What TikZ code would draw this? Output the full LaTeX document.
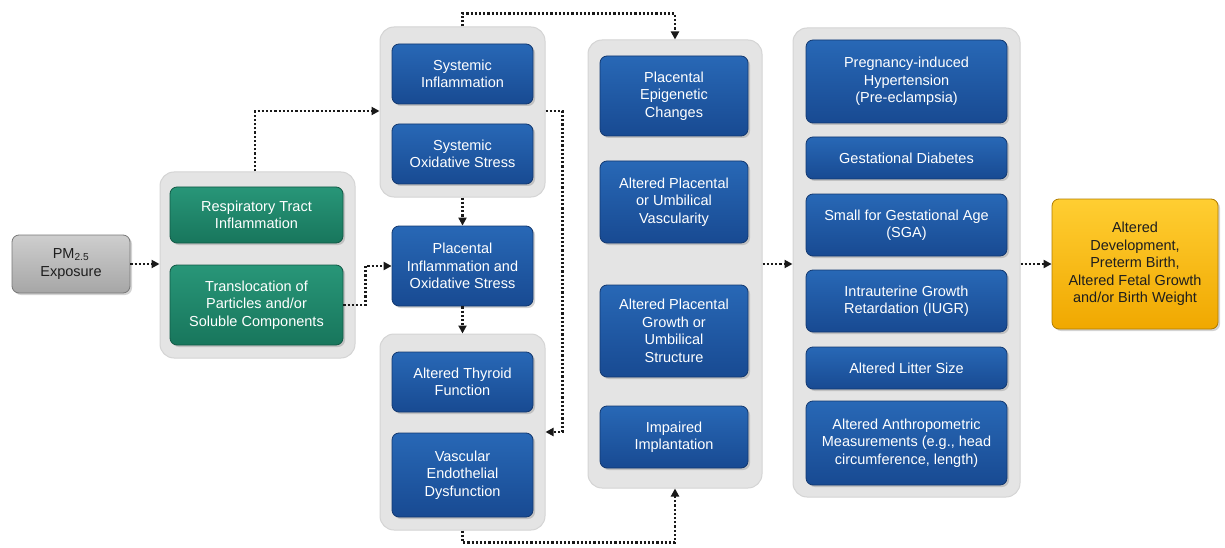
\documentclass[tikz,border=0pt]{standalone}
\usepackage{fontspec}
\setmainfont{Liberation Sans}
\usetikzlibrary{shadows,arrows.meta}
\definecolor{bgg}{RGB}{228,228,228}
\definecolor{bgedge}{RGB}{212,212,212}
\definecolor{bltop}{RGB}{40,104,182}
\definecolor{blbot}{RGB}{24,74,146}
\definecolor{bledge}{RGB}{18,56,112}
\definecolor{grtop}{RGB}{40,150,120}
\definecolor{grbot}{RGB}{24,118,92}
\definecolor{gredge}{RGB}{18,90,70}
\definecolor{gytop}{RGB}{206,206,206}
\definecolor{gybot}{RGB}{166,166,166}
\definecolor{gyedge}{RGB}{120,120,120}
\definecolor{ortop}{RGB}{255,206,50}
\definecolor{orbot}{RGB}{240,168,0}
\definecolor{oredge}{RGB}{176,124,0}
\definecolor{txtdark}{RGB}{30,30,30}
\tikzset{
  boxbase/.style={rounded corners=7pt, align=center, inner sep=2pt,
    font=\fontsize{14.5}{17.5}\selectfont, line width=0.8pt,
    drop shadow={shadow xshift=2pt, shadow yshift=-2pt, opacity=0.35}},
  bluebox/.style={boxbase, top color=bltop, bottom color=blbot, draw=bledge, text=white},
  greenbox/.style={boxbase, top color=grtop, bottom color=grbot, draw=gredge, text=white},
  graybox/.style={boxbase, top color=gytop, bottom color=gybot, draw=gyedge, text=txtdark},
  orangebox/.style={boxbase, top color=ortop, bottom color=orbot, draw=oredge, text=txtdark},
  groupbg/.style={rounded corners=14pt, fill=bgg, draw=bgedge, line width=1pt, inner sep=0pt},
  arr/.style={line width=2.2pt, dash pattern=on 2.2pt off 2pt, black!90,
    -{Triangle[length=8pt,width=8pt]}},
}
\begin{document}
\begin{tikzpicture}[x=1pt,y=-1pt]
\useasboundingbox (0,0) rectangle (1225,548);
% group backgrounds
\node[groupbg, minimum width=195pt, minimum height=186pt] (g1) at (257.5,265) {};
\node[groupbg, minimum width=165pt, minimum height=170pt] (g2) at (462.5,112) {};
\node[groupbg, minimum width=165pt, minimum height=196pt] (g3) at (462.5,432) {};
\node[groupbg, minimum width=174pt, minimum height=448pt] (g4) at (675,264) {};
\node[groupbg, minimum width=227pt, minimum height=469pt] (g5) at (906.5,262.5) {};
% boxes
\node[graybox, minimum width=118pt, minimum height=58pt] (pm) at (71,264) {PM\textsubscript{2.5}\\Exposure};
\node[greenbox, minimum width=173pt, minimum height=56pt] (resp) at (256.5,215) {Respiratory Tract\\Inflammation};
\node[greenbox, minimum width=173pt, minimum height=80pt] (trans) at (256.5,305) {Translocation of\\Particles and/or\\Soluble Components};
\node[bluebox, minimum width=141pt, minimum height=60pt] (si) at (462.5,74) {Systemic\\Inflammation};
\node[bluebox, minimum width=141pt, minimum height=60pt] (sos) at (462.5,154) {Systemic\\Oxidative Stress};
\node[bluebox, minimum width=141pt, minimum height=80pt] (pi) at (462.5,266) {Placental\\Inflammation and\\Oxidative Stress};
\node[bluebox, minimum width=141pt, minimum height=60pt] (atf) at (462.5,382) {Altered Thyroid\\Function};
\node[bluebox, minimum width=141pt, minimum height=84pt] (ved) at (462.5,475) {Vascular\\Endothelial\\Dysfunction};
\node[bluebox, minimum width=148pt, minimum height=80pt] (pec) at (674,96) {Placental\\Epigenetic\\Changes};
\node[bluebox, minimum width=148pt, minimum height=82pt] (apv) at (674,202) {Altered Placental\\or Umbilical\\Vascularity};
\node[bluebox, minimum width=148pt, minimum height=92pt] (apg) at (674,331) {Altered Placental\\Growth or\\Umbilical\\Structure};
\node[bluebox, minimum width=148pt, minimum height=62pt] (ii) at (674,437) {Impaired\\Implantation};
\node[bluebox, minimum width=201pt, minimum height=83pt] (pih) at (906.5,81.5) {Pregnancy-induced\\Hypertension\\(Pre-eclampsia)};
\node[bluebox, minimum width=201pt, minimum height=42pt] (gd) at (906.5,158) {Gestational Diabetes};
\node[bluebox, minimum width=201pt, minimum height=62pt] (sga) at (906.5,225) {Small for Gestational Age\\(SGA)};
\node[bluebox, minimum width=201pt, minimum height=62pt] (iugr) at (906.5,301) {Intrauterine Growth\\Retardation (IUGR)};
\node[bluebox, minimum width=201pt, minimum height=42pt] (als) at (906.5,368) {Altered Litter Size};
\node[bluebox, minimum width=201pt, minimum height=84pt] (aam) at (906.5,443) {Altered Anthropometric\\Measurements (e.g., head\\circumference, length)};
\node[orangebox, minimum width=166pt, minimum height=130pt] (fin) at (1135,264) {Altered\\Development,\\Preterm Birth,\\Altered Fetal Growth\\and/or Birth Weight};
% connectors
\draw[arr] (pm.east) -- (pm.east -| g1.west);
\draw[arr] ([xshift=-2.5pt]g1.north) |- ([yshift=1pt]g2.west);
\draw[arr] (trans.east) -- ++(22,0) |- (pi.west);
\draw[arr] (g2.south) -- (pi.north);
\draw[arr] (pi.south) -- (g3.north);
\draw[arr] (g2.north) -- ++(0,-13) -| (g4.north);
\draw[arr] ([yshift=1pt]g2.east) -- ++(17,0) |- (g3.east);
\draw[arr] (g3.south) -- ++(0,12) -| (g4.south);
\draw[arr] (g4.east) -- (g4.east -| g5.west);
\draw[arr] (g4.east -| g5.east) -- (g4.east -| fin.west);
\end{tikzpicture}
\end{document}
